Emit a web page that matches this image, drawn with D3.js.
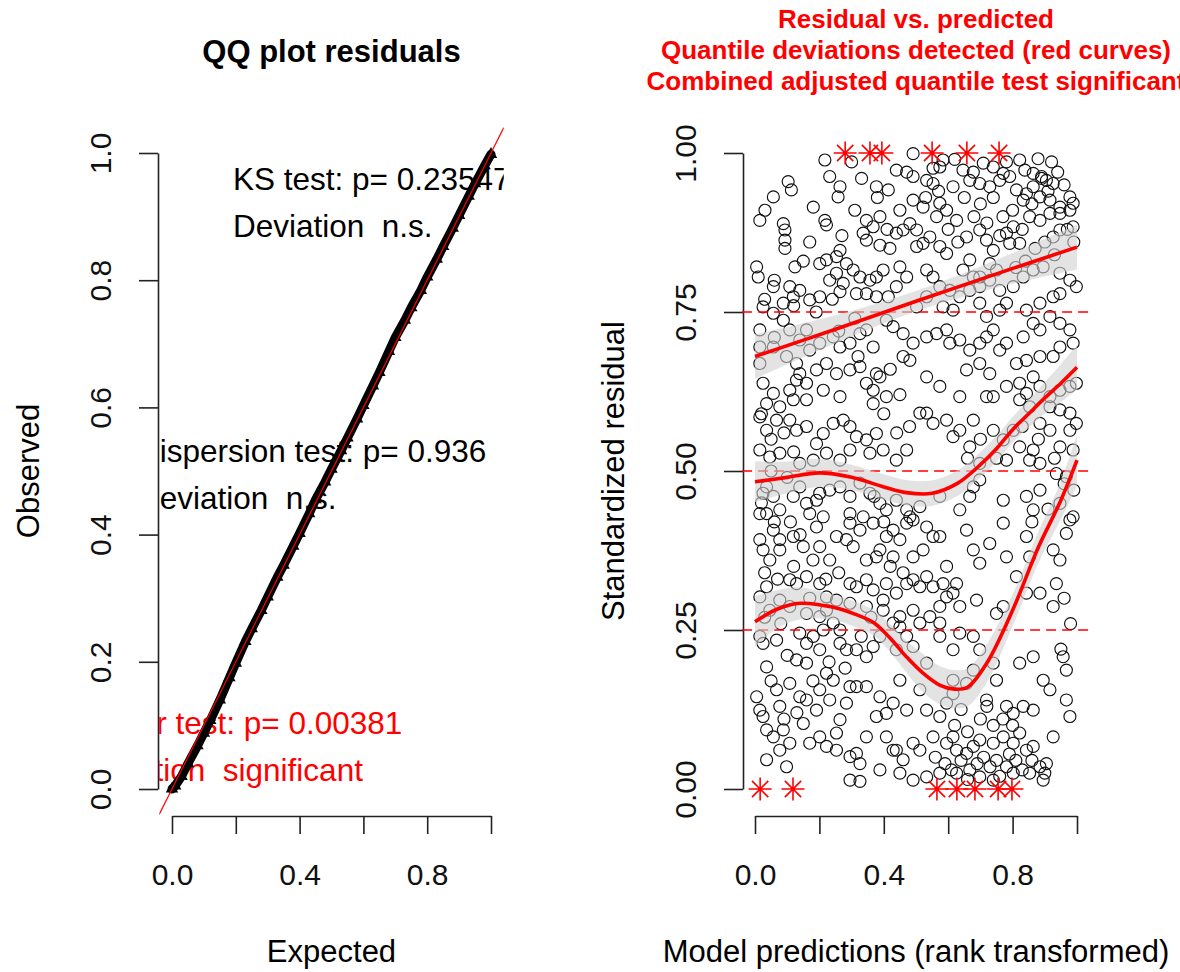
<!DOCTYPE html>
<html>
<head>
<meta charset="utf-8">
<script src="https://cdn.jsdelivr.net/npm/d3@7"></script>
<style>
  body { margin: 0; background: #fff; }
  text { font-family: "Liberation Sans", Arial, sans-serif; }
</style>
</head>
<body>
<script>
// ---- QQ plot data (expected vs observed quantiles) ----
var qqExpected = [0.00, 0.01, 0.03, 0.05, 0.08, 0.10, 0.12, 0.15, 0.18, 0.20, 0.23, 0.25, 0.28, 0.30, 0.33, 0.35, 0.38, 0.40,
  0.43, 0.45, 0.48, 0.50, 0.53, 0.55, 0.58, 0.60, 0.63, 0.65, 0.68, 0.70, 0.73, 0.75, 0.78, 0.80, 0.83, 0.85, 0.88, 0.90,
  0.93, 0.95, 0.98, 1.00];
var qqObserved = [0.000, 0.005, 0.020, 0.040, 0.068, 0.088, 0.108, 0.140, 0.175, 0.198, 0.232, 0.252, 0.281, 0.302, 0.333,
  0.352, 0.382, 0.402, 0.433, 0.455, 0.483, 0.503, 0.532, 0.552, 0.582, 0.603, 0.634, 0.655, 0.688, 0.710, 0.737, 0.757,
  0.784, 0.805, 0.833, 0.853, 0.882, 0.902, 0.932, 0.952, 0.980, 0.998];

var qqTicks = [0, 0.2, 0.4, 0.6, 0.8, 1.0];
var qqXLabels = [0, 0.4, 0.8];

// test results printed in the QQ panel
var ksText = ["KS test: p= 0.23547", "Deviation  n.s."];
var dispText = ["Dispersion test: p= 0.936", "Deviation  n.s."];
var outText = ["Outlier test: p= 0.00381", "Deviation  significant"];

// ---- residual vs predicted data: [rank transformed prediction, scaled residual] ----
var residPoints = [
  [0.217,0.989],[0.300,0.986],[0.491,0.999],[0.553,0.976],[0.574,0.978],[0.584,0.989],[0.646,0.973],[0.678,0.970],
  [0.709,0.984],[0.740,0.978],[0.781,0.986],[0.822,0.989],[0.838,0.973],[0.879,0.991],[0.921,0.986],[0.864,0.968],
  [0.890,0.963],[0.905,0.957],[0.926,0.952],[0.439,0.973],[0.471,0.970],[0.491,0.963],[0.533,0.957],[0.553,0.952],
  [0.615,0.947],[0.667,0.957],[0.698,0.952],[0.729,0.947],[0.760,0.957],[0.771,0.968],[0.791,0.963],[0.812,0.942],
  [0.843,0.936],[0.864,0.947],[0.885,0.931],[0.916,0.926],[0.947,0.915],[0.978,0.931],[0.988,0.921],[0.331,0.960],
  [0.377,0.947],[0.414,0.942],[0.264,0.947],[0.258,0.931],[0.232,0.963],[0.103,0.955],[0.113,0.942],[0.057,0.931],
  [0.031,0.910],[0.015,0.894],[0.181,0.915],[0.217,0.894],[0.222,0.887],
  [0.346,0.894],[0.367,0.884],[0.388,0.900],[0.336,0.874],[0.346,0.863],[0.388,0.855],[0.419,0.850],[0.264,0.847],
  [0.253,0.837],[0.222,0.832],[0.201,0.826],[0.124,0.821],[0.093,0.879],[0.093,0.863],[0.093,0.850],[0.088,0.889],
  [0.005,0.821],[0.010,0.805],[0.057,0.790],[0.491,0.926],[0.522,0.915],[0.574,0.921],[0.595,0.910],[0.626,0.894],
  [0.481,0.889],[0.502,0.879],[0.543,0.868],[0.574,0.853],[0.595,0.842],[0.564,0.900],[0.657,0.868],[0.698,0.879],
  [0.719,0.863],[0.740,0.847],[0.781,0.874],[0.802,0.884],[0.833,0.926],[0.853,0.900],[0.885,0.894],[0.916,0.905],
  [0.947,0.905],[0.978,0.910],[0.988,0.884],[0.947,0.879],[0.926,0.868],[0.791,0.858],[0.822,0.858],[0.729,0.826],
  [0.750,0.816],[0.667,0.832],[0.646,0.816],[0.698,0.805],[0.522,0.858],[0.502,0.853],[0.460,0.879],[0.439,0.874],
  [0.284,0.826],[0.305,0.816],[0.253,0.811],[0.232,0.800],[0.274,0.795],[0.326,0.805],[0.357,0.800],[0.377,0.805],
  [0.398,0.816],[0.450,0.821],[0.471,0.805],[0.439,0.790],[0.414,0.774],[0.377,0.774],[0.346,0.779],[0.315,0.779],
  [0.264,0.782],[0.201,0.774],[0.170,0.769],[0.139,0.784],[0.108,0.790],[0.119,0.774],[0.088,0.764],[0.025,0.758],
  [0.057,0.748],[0.533,0.816],[0.553,0.805],[0.574,0.790],[0.605,0.784],[0.636,0.774],[0.667,0.784],[0.698,0.790],
  [0.678,0.805],[0.729,0.800],[0.760,0.784],[0.802,0.790],[0.833,0.805],[0.864,0.816],[0.895,0.821],[0.947,0.811],
  [0.978,0.800],[0.998,0.790],[0.947,0.779],[0.926,0.774],[0.885,0.764],[0.843,0.753],[0.781,0.764],[0.760,0.753],
  [0.719,0.743],[0.698,0.764],[0.615,0.753],[0.584,0.758],[0.533,0.774],[0.502,0.758],
  [0.015,0.722],[0.015,0.695],[0.088,0.737],[0.108,0.722],[0.139,0.706],[0.160,0.722],[0.129,0.669],[0.170,0.690],
  [0.201,0.701],[0.243,0.711],[0.264,0.695],[0.295,0.701],[0.326,0.716],[0.346,0.722],[0.367,0.695],[0.408,0.737],
  [0.429,0.727],[0.460,0.716],[0.491,0.701],[0.460,0.680],[0.481,0.674],[0.533,0.711],[0.564,0.716],[0.595,0.722],
  [0.605,0.701],[0.636,0.706],[0.667,0.690],[0.698,0.701],[0.719,0.711],[0.740,0.722],[0.760,0.690],[0.781,0.701],
  [0.833,0.711],[0.864,0.732],[0.885,0.722],[0.916,0.743],[0.947,0.732],[0.978,0.722],[0.988,0.701],[0.947,0.695],
  [0.926,0.680],[0.885,0.680],[0.843,0.674],[0.812,0.669],[0.098,0.680],[0.057,0.695],
  [0.015,0.669],[0.025,0.638],[0.057,0.622],[0.108,0.627],[0.129,0.643],[0.139,0.653],[0.160,0.638],[0.191,0.659],
  [0.222,0.669],[0.253,0.653],[0.295,0.659],[0.326,0.664],[0.346,0.638],[0.367,0.627],[0.377,0.653],[0.388,0.648],
  [0.408,0.617],[0.367,0.606],[0.264,0.617],[0.212,0.627],[0.160,0.612],[0.119,0.612],[0.077,0.601],[0.036,0.606],
  [0.533,0.648],[0.574,0.633],[0.657,0.659],[0.698,0.669],[0.729,0.653],[0.719,0.617],[0.740,0.617],[0.781,0.633],
  [0.822,0.638],[0.843,0.622],[0.864,0.648],[0.885,0.633],[0.916,0.617],[0.947,0.627],[0.978,0.633],[0.998,0.638],
  [0.978,0.591],[0.947,0.596],[0.916,0.601],[0.853,0.601],[0.822,0.612],[0.636,0.617],[0.533,0.591],
  [0.015,0.585],[0.036,0.564],[0.067,0.580],[0.108,0.580],[0.129,0.564],[0.160,0.570],[0.191,0.543],[0.212,0.559],
  [0.243,0.575],[0.274,0.580],[0.295,0.570],[0.315,0.554],[0.346,0.549],[0.377,0.559],[0.398,0.533],[0.357,0.528],
  [0.295,0.533],[0.264,0.517],[0.222,0.528],[0.181,0.517],[0.139,0.512],[0.077,0.528],[0.046,0.522],[0.015,0.533],
  [0.439,0.517],[0.471,0.533],[0.512,0.591],[0.553,0.575],[0.595,0.580],[0.636,0.564],[0.678,0.580],[0.615,0.554],
  [0.667,0.538],[0.698,0.512],[0.740,0.564],[0.771,0.549],[0.802,0.564],[0.822,0.538],[0.864,0.533],[0.885,0.575],
  [0.916,0.564],[0.947,0.538],[0.978,0.564],[0.998,0.575],[0.988,0.533],[0.853,0.517],[0.781,0.517],[0.885,0.512],
  [0.025,0.465],[0.036,0.475],[0.057,0.460],[0.015,0.433],[0.036,0.433],[0.077,0.439],[0.119,0.460],[0.139,0.475],
  [0.160,0.449],[0.191,0.454],[0.201,0.465],[0.170,0.433],[0.212,0.428],[0.232,0.470],[0.264,0.475],[0.295,0.460],
  [0.326,0.481],[0.357,0.465],[0.388,0.449],[0.408,0.439],[0.439,0.454],[0.471,0.439],[0.481,0.428],[0.512,0.444],
  [0.574,0.460],[0.636,0.439],[0.667,0.460],[0.678,0.475],[0.698,0.486],[0.771,0.454],[0.843,0.460],[0.864,0.439],
  [0.885,0.470],[0.947,0.449],[0.988,0.428],[0.967,0.491],[0.936,0.496],[0.295,0.433],
  [0.015,0.392],[0.025,0.376],[0.057,0.407],[0.077,0.392],[0.046,0.360],[0.077,0.376],[0.119,0.397],[0.150,0.381],
  [0.191,0.412],[0.201,0.381],[0.232,0.360],[0.253,0.397],[0.284,0.392],[0.305,0.381],[0.295,0.418],[0.336,0.428],
  [0.326,0.407],[0.367,0.418],[0.388,0.376],[0.408,0.397],[0.429,0.407],[0.450,0.392],[0.471,0.418],[0.491,0.423],
  [0.533,0.412],[0.553,0.397],[0.574,0.397],[0.522,0.376],[0.491,0.365],[0.429,0.365],[0.377,0.365],[0.346,0.360],
  [0.657,0.407],[0.678,0.376],[0.698,0.355],[0.729,0.386],[0.771,0.418],[0.843,0.397],[0.853,0.365],[0.926,0.376],
  [0.947,0.360],[0.967,0.402],[0.978,0.423],[0.781,0.365],[0.595,0.350],
  [0.036,0.318],[0.015,0.302],[0.108,0.329],[0.129,0.323],[0.160,0.334],[0.201,0.323],[0.222,0.302],[0.253,0.297],
  [0.295,0.323],[0.315,0.318],[0.346,0.329],[0.367,0.313],[0.398,0.297],[0.408,0.323],[0.439,0.308],[0.471,0.323],
  [0.491,0.329],[0.512,0.318],[0.533,0.334],[0.553,0.318],[0.584,0.323],[0.595,0.302],[0.615,0.308],[0.636,0.287],
  [0.574,0.287],[0.543,0.271],[0.491,0.281],[0.450,0.271],[0.398,0.281],[0.346,0.287],[0.295,0.292],[0.222,0.281],
  [0.201,0.271],[0.160,0.276],[0.108,0.287],[0.077,0.297],[0.046,0.281],[0.688,0.297],[0.750,0.276],[0.771,0.287],
  [0.843,0.308],[0.885,0.308],[0.926,0.287],[0.936,0.323],[0.626,0.323],[0.812,0.334],
  [0.015,0.240],[0.025,0.229],[0.067,0.234],[0.139,0.245],[0.160,0.229],[0.181,0.240],[0.212,0.250],[0.243,0.261],
  [0.264,0.229],[0.284,0.219],[0.264,0.250],[0.315,0.219],[0.346,0.208],[0.201,0.219],[0.160,0.198],[0.129,0.203],
  [0.036,0.192],[0.367,0.224],[0.388,0.240],[0.429,0.261],[0.450,0.255],[0.471,0.240],[0.439,0.219],[0.491,0.224],
  [0.533,0.198],[0.574,0.240],[0.615,0.219],[0.636,0.245],[0.678,0.240],[0.698,0.219],[0.740,0.198],[0.822,0.198],
  [0.864,0.208],[0.957,0.208],[0.967,0.187],[0.512,0.261],[0.574,0.261],
  [0.005,0.145],[0.015,0.124],[0.025,0.114],[0.067,0.156],[0.108,0.166],[0.139,0.145],[0.160,0.140],[0.201,0.156],
  [0.222,0.182],[0.243,0.171],[0.295,0.161],[0.315,0.161],[0.346,0.161],[0.388,0.145],[0.429,0.135],[0.471,0.124],
  [0.450,0.171],[0.512,0.156],[0.595,0.135],[0.615,0.150],[0.657,0.166],[0.678,0.187],[0.750,0.171],[0.719,0.140],
  [0.781,0.130],[0.802,0.119],[0.833,0.130],[0.864,0.124],[0.895,0.171],[0.916,0.156],[0.967,0.140],[0.978,0.114],
  [0.284,0.135],[0.232,0.140],[0.191,0.124],[0.077,0.130],[0.377,0.114],[0.408,0.119],[0.533,0.124],[0.574,0.114],
  [0.615,0.171],
  [0.036,0.093],[0.057,0.082],[0.088,0.093],[0.108,0.072],[0.150,0.103],[0.170,0.072],[0.201,0.082],[0.222,0.067],
  [0.253,0.061],[0.264,0.109],[0.253,0.088],[0.295,0.051],[0.315,0.056],[0.346,0.082],[0.408,0.082],[0.439,0.061],
  [0.460,0.046],[0.491,0.072],[0.512,0.061],[0.553,0.082],[0.595,0.072],[0.615,0.082],[0.626,0.061],[0.657,0.056],
  [0.678,0.067],[0.698,0.077],[0.740,0.072],[0.771,0.082],[0.802,0.072],[0.822,0.088],[0.843,0.061],[0.864,0.067],
  [0.885,0.035],[0.905,0.040],[0.926,0.082],[0.036,0.046],[0.077,0.061],[0.098,0.035],[0.326,0.040],[0.388,0.030],
  [0.450,0.025],[0.491,0.014],[0.533,0.019],[0.574,0.025],[0.626,0.025],[0.667,0.030],[0.698,0.019],[0.740,0.014],
  [0.781,0.035],[0.802,0.025],[0.853,0.025],[0.895,0.014],[0.295,0.014],[0.326,0.012],[0.429,0.061],
  // denser patches
  [0.62,0.99],[0.65,0.93],[0.70,0.92],[0.74,0.93],[0.77,0.90],[0.80,0.91],[0.83,0.88],[0.86,0.92],[0.89,0.96],
  [0.91,0.94],[0.94,0.97],[0.96,0.95],[0.97,0.88],[0.99,0.86],[0.93,0.84],[0.90,0.86],[0.87,0.85],[0.84,0.83],
  [0.81,0.82],[0.76,0.87],[0.72,0.89],[0.68,0.90],[0.63,0.86],[0.60,0.88],[0.57,0.94],[0.53,0.93],[0.45,0.91],
  [0.41,0.88],[0.38,0.93],[0.31,0.91],[0.27,0.87],[0.17,0.86],[0.15,0.83],[0.06,0.80],[0.03,0.77],
  [0.56,0.05],[0.59,0.04],[0.61,0.03],[0.64,0.045],[0.66,0.015],[0.69,0.04],[0.71,0.05],[0.73,0.035],[0.75,0.045],
  [0.76,0.02],[0.79,0.055],[0.81,0.045],[0.83,0.03],[0.86,0.045],[0.90,0.025],[0.62,0.10],[0.66,0.09],[0.70,0.11],
  [0.74,0.10],[0.77,0.11],[0.80,0.10],[0.72,0.13],[0.64,0.125],
  [0.02,0.59],[0.05,0.55],[0.09,0.56],[0.12,0.53],[0.05,0.50],[0.10,0.49],[0.02,0.45],[0.06,0.42],[0.11,0.42],
  [0.14,0.40],[0.03,0.34],[0.07,0.33],[0.12,0.35],[0.18,0.36],[0.22,0.33],[0.26,0.34],[0.17,0.30],[0.03,0.27],
  [0.08,0.26],[0.10,0.21],[0.05,0.17],[0.09,0.11],[0.13,0.12],[0.18,0.17],[0.23,0.20],[0.28,0.19],[0.33,0.24],
  [0.36,0.27],[0.42,0.35],[0.46,0.34],[0.40,0.42],[0.37,0.46],
  [0.26,0.72],[0.31,0.74],[0.19,0.75],[0.24,0.77],[0.12,0.76],[0.06,0.71],[0.32,0.68],[0.42,0.66],[0.45,0.62],
  [0.48,0.57],[0.44,0.56],[0.40,0.59],[0.66,0.52],[0.70,0.55],[0.75,0.52],[0.83,0.57],[0.88,0.55],[0.93,0.52],
  [0.96,0.48],[0.99,0.47],[0.91,0.44],[0.86,0.42],[0.96,0.30],[0.98,0.26],[0.95,0.22]
];

// outliers (simulation envelope exceeded) at top and bottom
var outlierHighX = [0.280, 0.357, 0.394, 0.550, 0.658, 0.758];
var outlierLowX = [0.016, 0.118, 0.565, 0.627, 0.683, 0.755, 0.798];

// quantile regression curves (0.25, 0.5, 0.75) with their standard errors
var q75X = [0, 0.25, 0.5, 0.75, 1];
var q75Y = [0.680, 0.723, 0.767, 0.810, 0.852];
var q75Se = [0.035, 0.022, 0.016, 0.022, 0.035];

var q50X = [0, 0.1, 0.2, 0.3, 0.4, 0.47, 0.55, 0.63, 0.7, 0.75, 0.8, 0.85, 0.9, 0.95, 1.0];
var q50Y = [0.483, 0.490, 0.497, 0.490, 0.475, 0.466, 0.465, 0.481, 0.510, 0.535, 0.565, 0.590, 0.615, 0.638, 0.663];
var q50Se = [0.032, 0.025, 0.022, 0.02, 0.02, 0.02, 0.02, 0.02, 0.02, 0.02, 0.02, 0.022, 0.025, 0.03, 0.035];

var q25X = [0, 0.07, 0.14, 0.24, 0.31, 0.37, 0.42, 0.47, 0.52, 0.575, 0.62, 0.66, 0.72, 0.8, 0.88, 0.95, 1.0];
var q25Y = [0.263, 0.283, 0.292, 0.286, 0.275, 0.261, 0.237, 0.208, 0.183, 0.163, 0.157, 0.160, 0.198, 0.281, 0.380, 0.454, 0.517];
var q25Se = [0.04, 0.03, 0.025, 0.02, 0.02, 0.02, 0.022, 0.025, 0.03, 0.03, 0.03, 0.03, 0.03, 0.025, 0.025, 0.03, 0.04];

var resYTicks = [0, 0.25, 0.5, 0.75, 1];
var resXTicks = [0, 0.2, 0.4, 0.6, 0.8, 1.0];
var resXLabels = [0, 0.4, 0.8];

// ---- set up svg ----
var width = 1180, height = 972;
var svg = d3.select("body").append("svg")
    .attr("width", width)
    .attr("height", height)
    .style("background", "#fff");

var axisColor = "#222";

// scales for both panels
var yScale = d3.scaleLinear().domain([0, 1]).range([789, 153]);
var xQQ = d3.scaleLinear().domain([0, 1]).range([172, 491]);
var xRes = d3.scaleLinear().domain([0, 1]).range([755, 1077]);

// R like plot regions (4% padding)
var qqRegion = {x0: xQQ(-0.04), x1: xQQ(1.04), y0: yScale(1.04), y1: yScale(-0.04)};

svg.append("clipPath").attr("id", "qqclip")
  .append("rect")
    .attr("x", qqRegion.x0).attr("y", qqRegion.y0)
    .attr("width", qqRegion.x1 - qqRegion.x0)
    .attr("height", qqRegion.y1 - qqRegion.y0);

function styleAxis(g) {
  g.attr("font-size", null).attr("font-family", null);
  g.selectAll("path, line").attr("stroke", axisColor).attr("stroke-width", 1.6);
  g.selectAll("text").attr("fill", "#111").style("font-size", "30px");
}

function drawXAxis(scale, ticks, shown, yPos) {
  var g = svg.append("g")
      .attr("transform", "translate(0," + yPos + ")")
      .call(d3.axisBottom(scale).tickValues(ticks).tickSize(18).tickSizeOuter(0).tickPadding(30)
        .tickFormat(function(d) { return shown.indexOf(d) >= 0 ? d.toFixed(1) : ""; }));
  styleAxis(g);
  return g;
}

function drawYAxis(xPos, ticks, fmt) {
  var g = svg.append("g")
      .attr("transform", "translate(" + xPos + ",0)")
      .call(d3.axisLeft(yScale).tickValues(ticks).tickSize(19).tickSizeOuter(0).tickFormat(fmt));
  styleAxis(g);
  g.selectAll("text")
      .attr("x", 0).attr("y", -58).attr("dy", "0.35em")
      .attr("transform", "rotate(-90)")
      .style("text-anchor", "middle");
  return g;
}

// ================= left panel: QQ plot =================
drawXAxis(xQQ, qqTicks, qqXLabels, 816);
drawYAxis(158, qqTicks, d3.format(".1f"));

var qqData = qqExpected.map(function(e, i) { return {e: e, o: qqObserved[i]}; });

var qqG = svg.append("g").attr("clip-path", "url(#qqclip)");

// test legends (drawn first, the points lie over them)
function legendText(lines, x, y0, color) {
  qqG.selectAll(null)
      .data(lines)
    .enter().append("text")
      .attr("x", x)
      .attr("y", function(d, i) { return y0 + i * 47; })
      .attr("fill", color)
      .style("font-size", "31.5px")
      .style("white-space", "pre")
      .attr("xml:space", "preserve")
      .text(function(d) { return d; });
}
legendText(ksText, 233, 190, "#000");
legendText(dispText, 137, 462, "#000");
legendText(outText, 74, 734, "#ff0000");

// observed quantiles (dense band of points)
qqG.append("path")
    .datum(qqData)
    .attr("fill", "none")
    .attr("stroke", "#000")
    .attr("stroke-width", 9)
    .attr("stroke-linejoin", "round")
    .attr("stroke-linecap", "round")
    .attr("d", d3.line().x(function(d) { return xQQ(d.e); }).y(function(d) { return yScale(d.o); }));

qqG.selectAll(".qqpt")
    .data(qqData)
  .enter().append("path")
    .attr("class", "qqpt")
    .attr("transform", function(d) { return "translate(" + xQQ(d.e) + "," + yScale(d.o) + ")"; })
    .attr("d", d3.symbol().type(d3.symbolTriangle2).size(70))
    .attr("fill", "none")
    .attr("stroke", "#000")
    .attr("stroke-width", 1.5);

// 1:1 line
qqG.append("line")
    .attr("x1", xQQ(-0.1)).attr("y1", yScale(-0.1))
    .attr("x2", xQQ(1.1)).attr("y2", yScale(1.1))
    .attr("stroke", "#ff0000")
    .attr("stroke-width", 1.2);

svg.append("text")
    .attr("x", (qqRegion.x0 + qqRegion.x1) / 2).attr("y", 62)
    .attr("text-anchor", "middle")
    .style("font-size", "31px").style("font-weight", "bold")
    .text("QQ plot residuals");

svg.append("text")
    .attr("x", (qqRegion.x0 + qqRegion.x1) / 2).attr("y", 962)
    .attr("text-anchor", "middle")
    .style("font-size", "31px")
    .text("Expected");

svg.append("text")
    .attr("transform", "translate(28,471) rotate(-90)")
    .attr("dy", "0.35em")
    .attr("text-anchor", "middle")
    .style("font-size", "31px")
    .text("Observed");

// ================= right panel: residual vs predicted =================
var resRegion = {x0: xRes(-0.04), x1: xRes(1.04)};

drawXAxis(xRes, resXTicks, resXLabels, 816);
drawYAxis(743, resYTicks, d3.format(".2f"));

// points
svg.append("g").selectAll("circle")
    .data(residPoints)
  .enter().append("circle")
    .attr("cx", function(d) { return xRes(d[0]); })
    .attr("cy", function(d) { return yScale(d[1]); })
    .attr("r", 6)
    .attr("fill", "none")
    .attr("stroke", "#111")
    .attr("stroke-width", 1.15);

// reference quantile lines
svg.append("g").selectAll("line")
    .data([0.25, 0.5, 0.75])
  .enter().append("line")
    .attr("x1", resRegion.x0).attr("x2", resRegion.x1)
    .attr("y1", function(d) { return yScale(d); })
    .attr("y2", function(d) { return yScale(d); })
    .attr("stroke", "#ff0000")
    .attr("stroke-width", 1.5)
    .attr("stroke-dasharray", "10,6");

// fitted quantile curves with confidence bands
var curves = [
  {x: q25X, y: q25Y, se: q25Se},
  {x: q50X, y: q50Y, se: q50Se},
  {x: q75X, y: q75Y, se: q75Se}
];

var band = d3.area()
    .curve(d3.curveCatmullRom)
    .x(function(d) { return xRes(d.x); })
    .y0(function(d) { return yScale(d.y - d.se); })
    .y1(function(d) { return yScale(d.y + d.se); });

var fitLine = d3.line()
    .curve(d3.curveCatmullRom)
    .x(function(d) { return xRes(d.x); })
    .y(function(d) { return yScale(d.y); });

curves.forEach(function(c) {
  var pts = c.x.map(function(x, i) { return {x: x, y: c.y[i], se: c.se[i]}; });
  svg.append("path")
      .datum(pts)
      .attr("fill", "#d0d0d0")
      .attr("fill-opacity", 0.6)
      .attr("d", band);
  svg.append("path")
      .datum(pts)
      .attr("fill", "none")
      .attr("stroke", "#ff0000")
      .attr("stroke-width", 3.6)
      .attr("d", fitLine);
});

// outlier asterisks (R pch 8)
function star(r) {
  var a = r * Math.SQRT1_2;
  return "M" + (-r) + ",0H" + r + "M0," + (-r) + "V" + r +
         "M" + (-a) + "," + (-a) + "L" + a + "," + a +
         "M" + (-a) + "," + a + "L" + a + "," + (-a);
}
var stars = outlierHighX.map(function(x) { return [x, 1]; })
    .concat(outlierLowX.map(function(x) { return [x, 0]; }));
svg.append("g").selectAll("path")
    .data(stars)
  .enter().append("path")
    .attr("transform", function(d) { return "translate(" + xRes(d[0]) + "," + yScale(d[1]) + ")"; })
    .attr("d", star(11.5))
    .attr("stroke", "#ff0000")
    .attr("stroke-width", 1.6)
    .attr("fill", "none");

// titles (the long lines run past the right edge, as in the original device)
var resTitle = ["Residual vs. predicted",
                "Quantile deviations detected (red curves)",
                "Combined adjusted quantile test significant"];
svg.append("g").selectAll("text")
    .data(resTitle)
  .enter().append("text")
    .attr("x", (resRegion.x0 + resRegion.x1) / 2)
    .attr("y", function(d, i) { return 28 + i * 31; })
    .attr("text-anchor", "middle")
    .attr("fill", "#ff0000")
    .style("font-size", "26px").style("font-weight", "bold")
    .text(function(d) { return d; });

svg.append("text")
    .attr("x", (resRegion.x0 + resRegion.x1) / 2).attr("y", 962)
    .attr("text-anchor", "middle")
    .style("font-size", "31px")
    .text("Model predictions (rank transformed)");

svg.append("text")
    .attr("transform", "translate(613,471) rotate(-90)")
    .attr("dy", "0.35em")
    .attr("text-anchor", "middle")
    .style("font-size", "31px")
    .text("Standardized residual");
</script>
</body>
</html>
